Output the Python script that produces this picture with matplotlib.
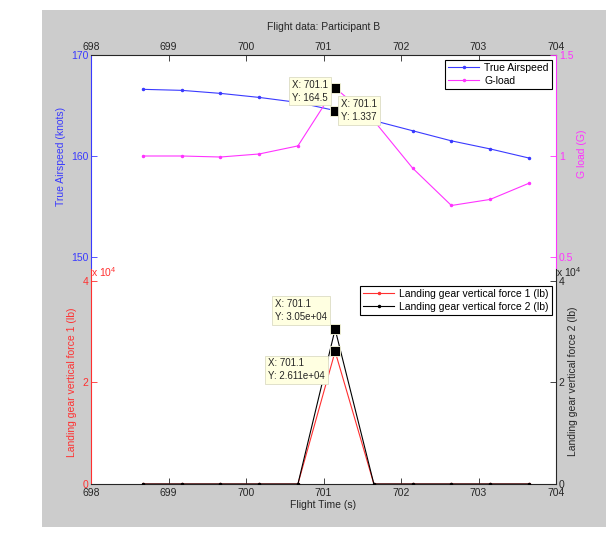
import numpy as np
import matplotlib
matplotlib.use('Agg')
import matplotlib.pyplot as plt
from matplotlib.patches import Rectangle

plt.rcParams['font.family'] = ['Liberation Sans', 'DejaVu Sans']
plt.rcParams['font.size'] = 7.5
plt.rcParams['mathtext.default'] = 'regular'

# flight data, participant B
time = [698.67, 699.17, 699.67, 700.17, 700.67, 701.15, 701.65, 702.15, 702.65, 703.15, 703.65]
airspeed = [166.6, 166.5, 166.2, 165.8, 165.3, 164.5, 163.5, 162.5, 161.5, 160.7, 159.8]
gload = [1.0, 1.0, 0.995, 1.01, 1.05, 1.337, 1.175, 0.94, 0.755, 0.785, 0.865]
force1 = [0, 0, 0, 0, 0, 26110, 0, 0, 0, 0, 0]
force2 = [0, 0, 0, 0, 0, 30500, 0, 0, 0, 0, 0]

xticks = [698, 699, 700, 701, 702, 703, 704]
tip_x = '701.1'
tip_airspeed = '164.5'
tip_gload = '1.337'
tip_f1 = '2.611e+04'
tip_f2 = '3.05e+04'

blue = '#3a3aff'
mag = '#ff33ff'
red = '#ff3030'
dark = '#262626'

W, H = 614, 542
fig = plt.figure(figsize=(W / 100, H / 100), dpi=100)
fig.patch.set_facecolor('white')
fig.add_artist(Rectangle((42 / W, 1 - 527 / H), (606 - 42) / W, (527 - 10) / H,
                         transform=fig.transFigure, facecolor='#cccccc',
                         edgecolor='none', zorder=0))

L, AW = 91 / W, 465 / W
ax1 = fig.add_axes([L, 1 - 269 / H, AW, 214 / H])
ax2 = fig.add_axes([L, 1 - 484 / H, AW, 215 / H])
ax1r = ax1.twinx()
ax2r = ax2.twinx()

# ---- top panel: airspeed and G-load
l1, = ax1.plot(time, airspeed, '.-', color=blue, lw=0.8, ms=3, label='True Airspeed')
l2, = ax1r.plot(time, gload, '.-', color=mag, lw=0.8, ms=3, label='G-load')
ax1.set_xlim(698, 704)
ax1.set_ylim(148.81, 170)
ax1r.set_ylim(0.4406, 1.5)
ax1.set_yticks([150, 160, 170])
ax1r.set_yticks([0.5, 1, 1.5])
ax1r.set_yticklabels(['0.5', '1', '1.5'])
ax1.set_xticks(xticks)
ax1.xaxis.tick_top()
ax1.tick_params(axis='x', direction='in', length=4, colors=dark, pad=2, width=0.6)
ax1.tick_params(axis='y', direction='in', length=4, colors=blue, pad=2, width=0.6)
ax1r.tick_params(axis='y', direction='in', length=4, colors=mag, pad=2, width=0.6)
ax1.spines['bottom'].set_visible(False)
ax1.spines['right'].set_visible(False)
ax1.spines['left'].set_color(blue)
ax1.spines['top'].set_color(dark)
for s in ['top', 'bottom', 'left']:
    ax1r.spines[s].set_visible(False)
ax1r.spines['right'].set_color(mag)
ax1.set_title('Flight data: Participant B', y=1.131, pad=0, va='center',
              color=dark, fontsize=7.5)
ax1.set_ylabel('True Airspeed (knots)', color=blue, va='center')
ax1.yaxis.set_label_coords(-0.065, 0.528)
ax1r.set_ylabel('G load (G)', color=mag, va='center')
ax1r.yaxis.set_label_coords(1.055, 0.54)

leg1 = ax1r.legend(handles=[l1, l2], loc='upper right',
                   bbox_to_anchor=(552 / W, 1 - 60 / H), bbox_transform=fig.transFigure,
                   borderaxespad=0, fancybox=False, edgecolor='k', framealpha=1,
                   handlelength=3, borderpad=0.3, labelspacing=0.25, handletextpad=0.5,
                   numpoints=1, fontsize=7.5)
leg1.get_frame().set_linewidth(0.8)

# ---- bottom panel: landing gear forces
l3, = ax2.plot(time, force1, '.-', color=red, lw=0.8, ms=3,
               label='Landing gear vertical force 1 (lb)')
l4, = ax2r.plot(time, force2, '.-', color='k', lw=0.8, ms=3,
                label='Landing gear vertical force 2 (lb)')
ax2.set_xlim(698, 704)
ax2.set_ylim(0, 42360)
ax2r.set_ylim(0, 42360)
ax2.set_yticks([0, 20000, 40000])
ax2.set_yticklabels(['0', '2', '4'])
ax2r.set_yticks([0, 20000, 40000])
ax2r.set_yticklabels(['0', '2', '4'])
ax2.set_xticks(xticks)
ax2.tick_params(axis='x', direction='in', length=4, colors=dark, pad=3, width=0.6)
ax2.tick_params(axis='y', direction='in', length=4, colors=red, pad=2, width=0.6)
ax2r.tick_params(axis='y', direction='in', length=4, colors=dark, pad=2, width=0.6)
ax2.spines['top'].set_visible(False)
ax2.spines['right'].set_visible(False)
ax2.spines['left'].set_color(red)
ax2.spines['bottom'].set_color(dark)
for s in ['top', 'bottom', 'left']:
    ax2r.spines[s].set_visible(False)
ax2r.spines['right'].set_color(dark)
ax2.set_xlabel('Flight Time (s)', color=dark, va='center')
ax2.xaxis.set_label_coords(0.5, -0.0977)
ax2.set_ylabel('Landing gear vertical force 1 (lb)', color=red, va='center')
ax2.yaxis.set_label_coords(-0.0415, 0.474)
ax2r.set_ylabel('Landing gear vertical force 2 (lb)', color=dark, va='center')
ax2r.yaxis.set_label_coords(1.036, 0.48)
ax2.text(0.0, 0.986, r'x 10$^{4}$', transform=ax2.transAxes, color=red,
         ha='left', va='center', fontsize=7.5)
ax2r.text(1.0, 0.986, r'x 10$^{4}$', transform=ax2r.transAxes, color=dark,
          ha='left', va='center', fontsize=7.5)

leg2 = ax2r.legend(handles=[l3, l4], loc='upper right',
                   bbox_to_anchor=(552 / W, 1 - 286 / H), bbox_transform=fig.transFigure,
                   borderaxespad=0, fancybox=False, edgecolor='k', framealpha=1,
                   handlelength=3, borderpad=0.3, labelspacing=0.25, handletextpad=0.5,
                   numpoints=1, fontsize=7.5)
leg2.get_frame().set_linewidth(0.8)


# ---- data tips
def datatip(ax, src, x, y, ytxt, dx, dy, ha, va):
    ax.plot([x], [y], 's', color='k', ms=6.5, mec='#ffffe1', mew=0.6,
            transform=src.transData, zorder=6, clip_on=False)
    ax.annotate('X: ' + tip_x + '\nY: ' + ytxt, xy=(x, y), xycoords=src.transData,
                xytext=(dx, dy), textcoords='offset pixels', ha=ha, va=va,
                multialignment='left', fontsize=7, color=dark, linespacing=1.35,
                zorder=7,
                bbox=dict(boxstyle='square,pad=0.3', fc='#ffffe1', ec='#dcdcc4', lw=0.6))


datatip(ax1r, ax1, time[5], airspeed[5], tip_airspeed, -7, 8, 'right', 'bottom')
datatip(ax1r, ax1r, time[5], gload[5], tip_gload, 6, -11, 'left', 'top')
datatip(ax2r, ax2r, time[5], force2[5], tip_f2, -8, 7, 'right', 'bottom')
datatip(ax2r, ax2, time[5], force1[5], tip_f1, -10, -7, 'right', 'top')

fig.savefig('out.png', dpi=100)
